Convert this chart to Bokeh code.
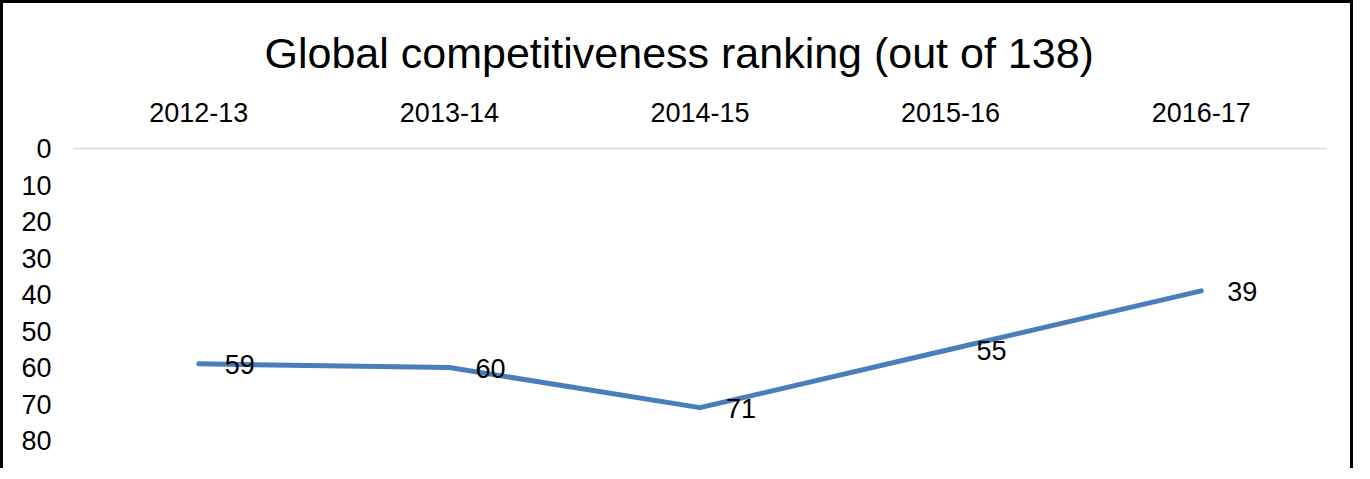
from bokeh.plotting import figure
from bokeh.models import Range1d, FixedTicker, ColumnDataSource
from bokeh.core.properties import value
from bokeh.embed import file_html
from bokeh.resources import INLINE

categories = ["2012-13", "2013-14", "2014-15", "2015-16", "2016-17"]
ranking = [59, 60, 71, 55, 39]
y_ticks = [0, 10, 20, 30, 40, 50, 60, 70, 80]

FONT = "Liberation Sans"
LINE_COLOR = "#4A7EBB"

src = ColumnDataSource(dict(cat=categories, rank=ranking, lab=[str(v) for v in ranking]))

p = figure(
    width=1353, height=468,
    x_range=categories, y_range=Range1d(80, 0),
    x_axis_location="above",
    output_backend="svg", toolbar_location=None,
    title="Global competitiveness ranking (out of 138)",
    min_border_left=70, min_border_right=30,
    min_border_top=145, min_border_bottom=31,
)
p.styles = {
    "border-left": "3px solid black",
    "border-top": "3px solid black",
    "border-right": "3px solid black",
}

p.title.align = "left"
p.title.offset = 191
p.title.text_font = FONT
p.title.text_font_size = "43px"
p.title.text_font_style = "normal"
p.title.text_color = "#000000"
p.title.standoff = 46

p.outline_line_color = None
p.xgrid.grid_line_color = None
p.ygrid.grid_line_color = None
p.background_fill_color = "white"
p.border_fill_color = "white"

xa = p.xaxis[0]
xa.axis_line_color = "#D9D9D9"
xa.axis_line_width = 1.5
xa.major_tick_line_color = None
xa.minor_tick_line_color = None
xa.major_tick_out = 0
xa.major_tick_in = 0
xa.major_label_standoff = 27
xa.major_label_text_font = FONT
xa.major_label_text_font_size = "27px"
xa.major_label_text_color = "#000000"

ya = p.yaxis[0]
ya.ticker = FixedTicker(ticks=y_ticks)
ya.axis_line_color = None
ya.major_tick_line_color = None
ya.minor_tick_line_color = None
ya.major_tick_out = 0
ya.major_tick_in = 0
ya.major_label_standoff = 22
ya.major_label_text_font = FONT
ya.major_label_text_font_size = "27px"
ya.major_label_text_color = "#000000"

p.line("cat", "rank", source=src, line_color=LINE_COLOR, line_width=5, line_join="round", line_cap="round")

p.text("cat", "rank", text="lab", source=src, x_offset=26, y_offset=1,
       text_align="left", text_baseline="middle",
       text_font=value(FONT), text_font_size="27px", text_color="#000000")

open("out.html", "w").write(file_html(p, INLINE))
